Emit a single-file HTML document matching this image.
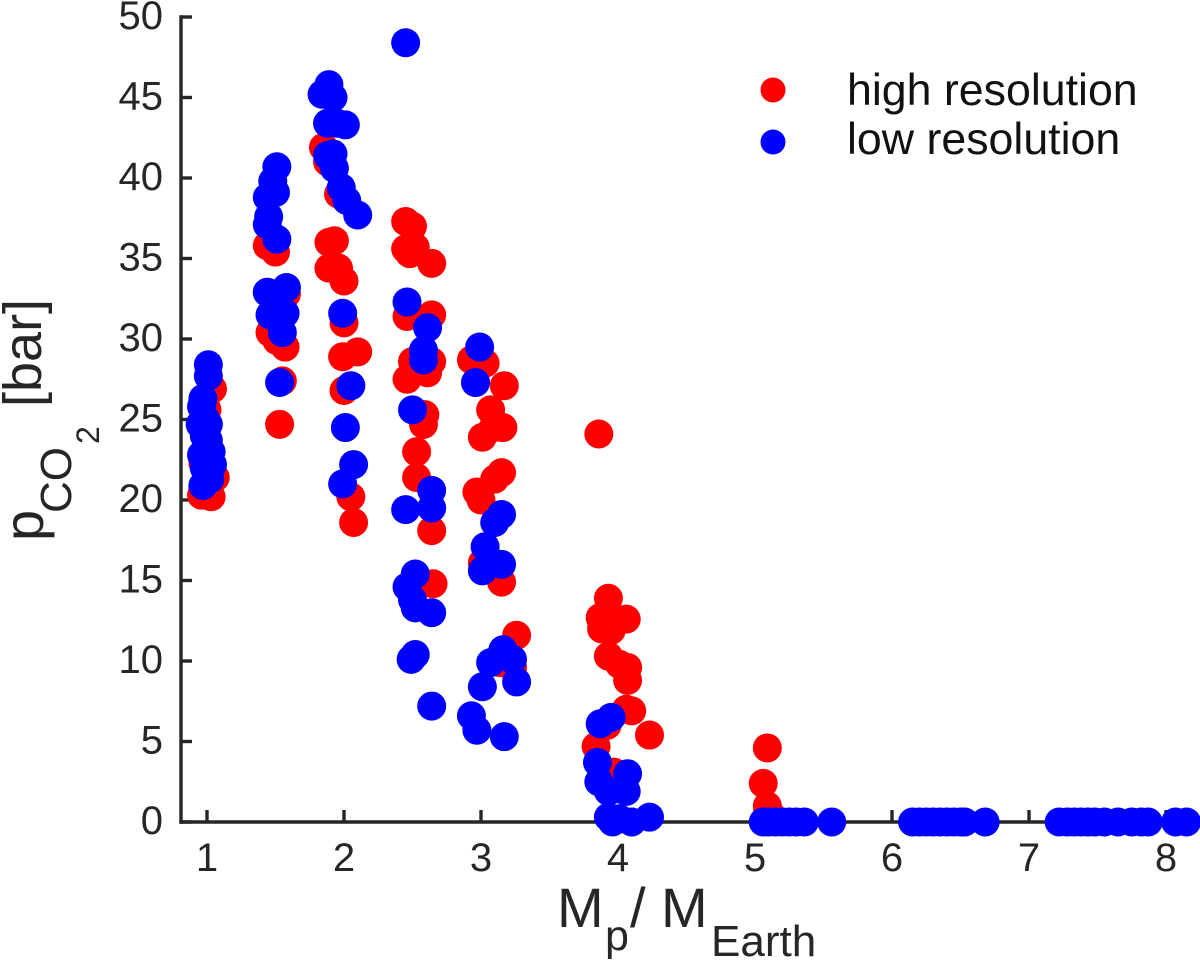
<!DOCTYPE html>
<html lang="en">
<head>
<meta charset="utf-8">
<title>CO2 pressure versus planet mass</title>
<style>
html,body{margin:0;padding:0;background:#fff;}
svg{display:block;font-family:"Liberation Sans",Arial,sans-serif;}
text{fill:#262626;}
</style>
</head>
<body>
<svg id="chart" xmlns="http://www.w3.org/2000/svg" width="1200" height="966" viewBox="0 0 1200 966">
  <rect x="0" y="0" width="1200" height="966" fill="#ffffff"/>
  <g id="axes"></g>
  <g id="series-high"></g>
  <g id="series-low"></g>
  <g>
    <circle cx="773" cy="90" r="12.5" fill="#ff0000"/>
    <text x="847" y="105" font-size="44.7" style="fill:#111">high resolution</text>
    <circle cx="773" cy="142" r="12.5" fill="#0000ff"/>
    <text x="847" y="154" font-size="44.7" style="fill:#111">low resolution</text>
  </g>
  <g>
    <text x="557" y="927" font-size="56">M</text>
    <text x="605" y="950" font-size="43">p</text>
    <text x="630" y="927" font-size="56">/</text>
    <text x="661" y="927" font-size="56">M</text>
    <text x="711" y="956" font-size="44">Earth</text>
  </g>
  <g>
    <text transform="translate(43 541) rotate(-90)" font-size="56">p</text>
    <text transform="translate(71 513) rotate(-90)" font-size="44">CO</text>
    <text transform="translate(99 444) rotate(-90)" font-size="32">2</text>
    <text transform="translate(41 407) rotate(-90)" font-size="54">[bar]</text>
  </g>
</svg>
<script>
var xTickValues = [1, 2, 3, 4, 5, 6, 7, 8];
var xTickLabels = ["1", "2", "3", "4", "5", "6", "7", "8"];
var yTickValues = [0, 5, 10, 15, 20, 25, 30, 35, 40, 45, 50];
var yTickLabels = ["0", "5", "10", "15", "20", "25", "30", "35", "40", "45", "50"];

var highMass = [
  1.04,1.00,0.99,0.97,1.06,0.96,1.03,
  1.44,1.50,1.44,1.58,1.46,1.51,1.57,1.55,1.53,
  1.85,1.88,1.96,1.89,1.93,1.89,1.96,2.00,2.00,1.99,2.10,2.00,2.05,2.07,
  2.45,2.50,2.45,2.52,2.48,2.64,2.46,2.64,2.50,2.64,2.61,2.46,2.59,2.58,2.53,2.53,2.64,2.65,
  2.93,3.03,2.96,3.17,3.07,3.16,3.01,3.09,3.15,3.10,2.97,3.00,3.01,3.15,3.26,3.23,3.14,
  3.86,3.93,3.87,4.06,3.88,3.95,3.93,4.01,4.07,4.07,4.06,4.10,4.23,3.92,3.84,3.97,
  5.09,5.06,5.09,5.12
];
var highPressure = [
  26.9,25.6,23.1,22.3,21.4,20.3,20.2,
  35.8,35.4,32.9,32.8,30.4,29.9,29.5,27.4,24.7,
  41.9,41.0,39.0,36.0,36.1,34.4,34.4,33.6,31.0,28.9,29.2,26.8,20.2,18.6,
  37.3,37.0,35.6,35.7,35.3,34.7,31.4,31.5,28.6,28.6,27.9,27.5,25.3,24.7,23.0,21.4,18.1,14.8,
  28.7,28.5,27.3,27.1,25.6,24.5,23.9,24.5,21.7,21.3,20.5,20.0,16.1,14.9,11.6,9.6,9.9,
  24.1,13.9,12.7,12.6,12.0,11.9,10.3,9.8,9.6,8.8,7.0,6.9,5.4,6.0,4.7,3.1,
  4.6,2.4,1.0,0.4
];

var lowMass = [
  1.01,1.01,0.97,0.96,0.99,0.95,1.01,1.01,0.96,1.04,1.02,0.97,0.98,1.03,1.00,0.98,
  1.51,1.48,1.50,1.44,1.45,1.44,1.51,1.44,1.58,1.50,1.57,1.46,1.52,1.55,1.53,
  1.89,1.84,1.92,1.88,1.95,2.01,1.92,1.88,1.93,1.98,2.02,2.10,
  1.99,2.05,2.01,2.07,1.99,
  2.45,2.46,2.61,2.58,2.58,2.50,2.64,2.64,2.45,2.52,2.46,2.50,2.52,2.64,2.49,2.52,2.64,
  2.99,2.96,3.15,3.10,3.03,3.15,3.01,3.09,3.16,3.23,3.07,3.01,3.26,2.93,2.97,3.17,
  3.95,3.87,3.85,3.86,4.07,3.93,4.06,3.93,4.23,3.96,4.10,4.01,
  5.06,5.10,5.15,5.20,5.25,5.30,5.36,5.56,
  6.15,6.20,6.25,6.30,6.35,6.40,6.45,6.50,6.53,6.68,
  7.22,7.28,7.33,7.38,7.43,7.48,7.55,7.65,7.75,7.82,7.87,8.07,8.15
];
var lowPressure = [
  28.4,27.7,26.3,25.8,25.0,24.7,24.7,23.7,22.8,22.2,21.3,20.9,22.0,23.0,21.2,24.0,
  40.7,39.8,39.1,38.8,37.6,37.1,36.2,32.9,33.2,32.8,31.6,31.5,31.5,30.4,27.3,
  45.8,45.2,45.0,43.4,43.4,43.3,41.5,41.4,40.6,39.4,38.6,37.7,
  31.6,27.1,24.5,22.2,21.0,
  48.4,32.3,30.7,29.3,28.7,25.6,20.6,19.5,19.4,15.4,14.6,13.8,13.3,13.0,10.1,10.4,7.2,
  29.5,27.3,19.1,18.6,17.1,16.0,15.6,16.1,10.7,10.1,9.9,8.4,8.7,6.6,5.7,5.3,
  6.5,6.1,3.7,2.5,3.0,1.9,1.9,0.3,0.3,0,0,0.2,
  0,0,0,0,0,0,0,0,
  0,0,0,0,0,0,0,0,0,0,
  0,0,0,0,0,0,0,0,0,0,0,0,0
];

var SVG_NS = "http://www.w3.org/2000/svg";
function xScale(v) { return 207 + (v - 1) * 137; }
function yScale(v) { return 822 - v * 16.1; }

function makeLine(x1, y1, x2, y2) {
  var l = document.createElementNS(SVG_NS, "line");
  l.setAttribute("x1", x1);
  l.setAttribute("y1", y1);
  l.setAttribute("x2", x2);
  l.setAttribute("y2", y2);
  l.setAttribute("stroke", "#262626");
  l.setAttribute("stroke-width", "3.4");
  return l;
}

var axes = document.getElementById("axes");
var yAxisLine = makeLine(181, 15.3, 181, 823.7);


axes.appendChild(yAxisLine);
var xAxisLine = makeLine(179.3, 822, 1200, 822);


axes.appendChild(xAxisLine);

xTickValues.forEach(function (v, i) {
  var tick = makeLine(xScale(v), 822, xScale(v), 810);
  
  
  axes.appendChild(tick);
  var t = document.createElementNS(SVG_NS, "text");
  t.setAttribute("x", xScale(v));
  t.setAttribute("y", 871);
  t.setAttribute("font-size", "40");
  t.setAttribute("text-anchor", "middle");
  t.textContent = xTickLabels[i];
  
  
  axes.appendChild(t);
});

yTickValues.forEach(function (v, i) {
  var tick = makeLine(181, yScale(v), 192, yScale(v));
  
  
  axes.appendChild(tick);
  var t = document.createElementNS(SVG_NS, "text");
  t.setAttribute("x", 163);
  t.setAttribute("y", yScale(v) + 12);
  t.setAttribute("font-size", "40");
  t.setAttribute("text-anchor", "end");
  t.textContent = yTickLabels[i];
  
  
  axes.appendChild(t);
});

var highGroup = document.getElementById("series-high");
highMass.forEach(function (m, i) {
  var c = document.createElementNS(SVG_NS, "circle");
  c.setAttribute("cx", xScale(m));
  c.setAttribute("cy", yScale(highPressure[i]));
  c.setAttribute("r", 14.5);
  c.setAttribute("fill", "#ff0000");
  
  
  highGroup.appendChild(c);
});

var lowGroup = document.getElementById("series-low");
lowMass.forEach(function (m, i) {
  var c = document.createElementNS(SVG_NS, "circle");
  c.setAttribute("cx", xScale(m));
  c.setAttribute("cy", yScale(lowPressure[i]));
  c.setAttribute("r", 14.5);
  c.setAttribute("fill", "#0000ff");
  
  
  lowGroup.appendChild(c);
});
</script>
</body>
</html>
